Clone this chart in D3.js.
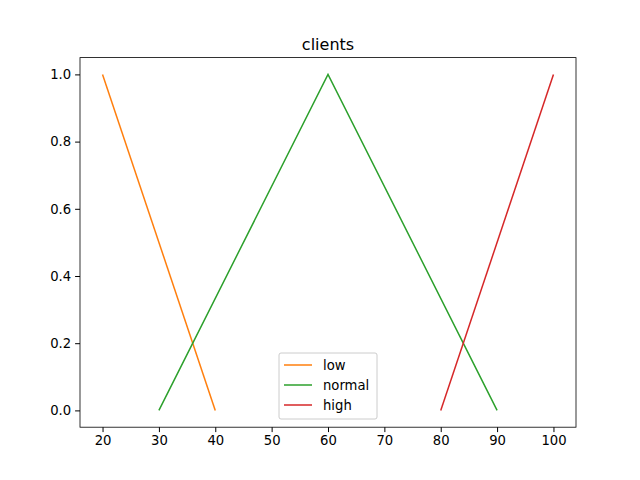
<!DOCTYPE html>
<html>
<head>
<meta charset="utf-8">
<script src="https://cdn.jsdelivr.net/npm/d3@7"></script>
<style>
  body { margin: 0; background: #fff; }
  text { font-family: "DejaVu Sans", sans-serif; }
</style>
</head>
<body>
<div id="chart"></div>
<script>
// Données
const lowX = [20, 40];
const lowY = [1, 0];
const normalX = [30, 60, 90];
const normalY = [0, 1, 0];
const highX = [80, 100];
const highY = [0, 1];
const names = ["low", "normal", "high"];
const colors = ["#ff7f0e", "#2ca02c", "#d62728"];
const xTicks = [20, 30, 40, 50, 60, 70, 80, 90, 100];
const yTicks = [0, 0.2, 0.4, 0.6, 0.8, 1.0];

const W = 640, H = 480;
const margin = { top: 57.6, right: 64, bottom: 52.8, left: 80 };

const svg = d3.select("#chart").append("svg")
    .attr("width", W).attr("height", H);

const x = d3.scaleLinear().domain([16, 104]).range([margin.left, W - margin.right]);
const y = d3.scaleLinear().domain([-0.05, 1.05]).range([H - margin.bottom, margin.top]);

// Axes
svg.append("g")
    .attr("transform", "translate(0," + (H - margin.bottom) + ")")
    .call(d3.axisBottom(x).tickValues(xTicks).tickSize(4.9).tickPadding(4).tickFormat(d3.format("d")))
    .call(g => g.select(".domain").remove())
    .selectAll("text").attr("font-size", 13.2).attr("fill", "#000");

svg.append("g")
    .attr("transform", "translate(" + margin.left + ",0)")
    .call(d3.axisLeft(y).tickValues(yTicks).tickSize(4.9).tickPadding(4).tickFormat(d3.format(".1f")))
    .call(g => g.select(".domain").remove())
    .selectAll("text").attr("font-size", 13.2).attr("fill", "#000");

svg.append("rect")
    .attr("x", margin.left).attr("y", margin.top)
    .attr("width", W - margin.left - margin.right)
    .attr("height", H - margin.top - margin.bottom)
    .attr("fill", "none").attr("stroke", "#000").attr("stroke-width", 0.8);

// Lignes
const series = [
    lowX.map((v, i) => [v, lowY[i]]),
    normalX.map((v, i) => [v, normalY[i]]),
    highX.map((v, i) => [v, highY[i]])
];
const line = d3.line().x(d => x(d[0])).y(d => y(d[1]));
series.forEach((s, i) => {
    svg.append("path").attr("d", line(s))
        .attr("fill", "none").attr("stroke", colors[i]).attr("stroke-width", 1.5);
});

// Titre
svg.append("text")
    .attr("x", (margin.left + W - margin.right) / 2).attr("y", margin.top - 8)
    .attr("text-anchor", "middle").attr("font-size", 16).text("clients");

// Légende
const lg = svg.append("g").attr("transform", "translate(279,353)");
lg.append("rect").attr("width", 98).attr("height", 66).attr("rx", 2)
    .attr("fill", "#fff").attr("fill-opacity", 0.8).attr("stroke", "#ccc");
names.forEach((n, i) => {
    const yy = 12 + i * 20;
    lg.append("line").attr("x1", 5).attr("x2", 33).attr("y1", yy).attr("y2", yy)
        .attr("stroke", colors[i]).attr("stroke-width", 1.5);
    lg.append("text").attr("x", 44).attr("y", yy + 5).attr("font-size", 13.2).text(n);
});
</script>
</body>
</html>
